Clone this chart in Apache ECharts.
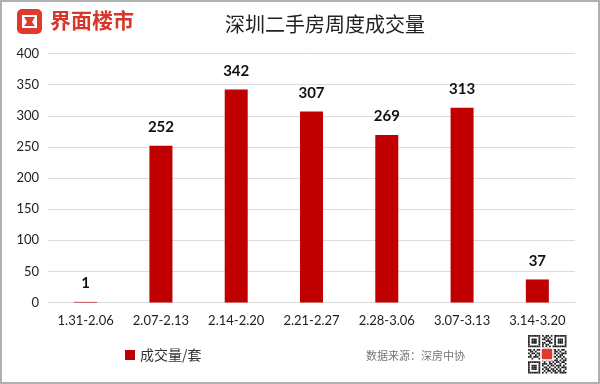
<!DOCTYPE html>
<html><head><meta charset="utf-8">
<script src="https://cdn.jsdelivr.net/npm/echarts@6/dist/echarts.min.js"></script>
<style>html,body{margin:0;padding:0;background:#fff}#c{width:600px;height:384px}</style>
</head><body><div id="c"></div>
<script>
const categories = ['1.31-2.06','2.07-2.13','2.14-2.20','2.21-2.27','2.28-3.06','3.07-3.13','3.14-3.20'];
const volumes = [1, 252, 342, 307, 269, 313, 37];
const seriesName = '成交量/套';
const titleText = '深圳二手房周度成交量';
const brandText = '界面楼市';
const sourceText = '数据来源：深房中协';

// decorative QR-like pattern
const qrRows = [
 '1111111010110101111111',
 '1000001001101001000001',
 '1011101011010101011101',
 '1011101000111001011101',
 '1011101011001101011101',
 '1000001010110001000001',
 '1111111010101011111111',
 '0000000011011000000000',
 '1101011100100111010110',
 '0110100011011001101001',
 '1011011000000011010111',
 '0100101000000010101100',
 '1101110100000111011010',
 '0010001011011100100101',
 '0000000010110101101011',
 '1111111001001010110110',
 '1000001011101101001001',
 '1011101010010110111010',
 '1011101001101001010111',
 '1011101010110110101001',
 '1000001001011011011010',
 '1111111010100101101111'
];
const qrGraphics = [];
const qx = 528, qy = 335, cs = 1.75;
qrRows.forEach((row, r) => {
  for (let c = 0; c < row.length; c++) {
    if (row[c] === '1') qrGraphics.push({type:'rect', shape:{x:qx+c*cs, y:qy+r*cs, width:cs, height:cs}, style:{fill:'#222'}, silent:true});
  }
});
qrGraphics.push({type:'rect', shape:{x:qx+13, y:qy+13, width:12, height:12, r:2}, style:{fill:'#e03a2e', stroke:'#fff', lineWidth:1.5}});

const chart = echarts.init(document.getElementById('c'));
chart.setOption({
  animation:false,
  backgroundColor:'#fff',
  title:{ text:titleText, left:320, top:9, textAlign:'center',
    textStyle:{ fontFamily:'Noto Sans CJK SC', fontSize:20, fontWeight:'normal', color:'#222' } },
  legend:{ data:[seriesName], left:120, top:343, itemWidth:10, itemHeight:10, icon:'rect', itemGap:5,
    textStyle:{ fontFamily:'Noto Sans CJK SC', fontSize:14, color:'#333' } },
  grid:{ left:48, right:25, top:53.5, bottom:81.5, containLabel:false },
  xAxis:{ type:'category', data:categories,
    axisLine:{ lineStyle:{ color:'#d9d9d9' } }, axisTick:{ show:false },
    axisLabel:{ fontFamily:'Lato', fontSize:13, color:'#222', margin:12 } },
  yAxis:{ type:'value', min:0, max:400, interval:50,
    axisLine:{ show:false }, axisTick:{ show:false },
    splitLine:{ lineStyle:{ color:'#dcdcdc' } },
    axisLabel:{ fontFamily:'Lato', fontSize:13, color:'#222', margin:9 } },
  series:[{ name:seriesName, type:'bar', data:volumes, barWidth:23,
    itemStyle:{ color:'#c00000' },
    label:{ show:true, position:'top', distance:11, fontFamily:'Lato', fontWeight:'bold', fontSize:15, color:'#111' } }],
  graphic:[
    { type:'rect', shape:{ x:1, y:1, width:598, height:382 }, style:{ fill:'none', stroke:'#b0b0b0', lineWidth:2 }, silent:true },
    { type:'rect', shape:{ x:17, y:9, width:25, height:25, r:5 }, style:{ fill:'#e03a2e' } },
    { type:'polygon', shape:{ points:[[22,15],[37,15],[37,28],[22,28]] }, style:{ fill:'#fff' } },
    { type:'polygon', shape:{ points:[[24,17],[35,17],[32,22],[35,26],[24,26],[27,22]] }, style:{ fill:'#e03a2e' } },
    { type:'text', left:50, top:10, style:{ text:brandText, fontFamily:'Noto Sans CJK SC', fontSize:21, fontWeight:'bold', fill:'#d9362b' } },
    { type:'text', left:366, top:350, style:{ text:sourceText, fontFamily:'Noto Sans CJK SC', fontSize:11, fill:'#777' } },
    ...qrGraphics
  ]
});
</script></body></html>
